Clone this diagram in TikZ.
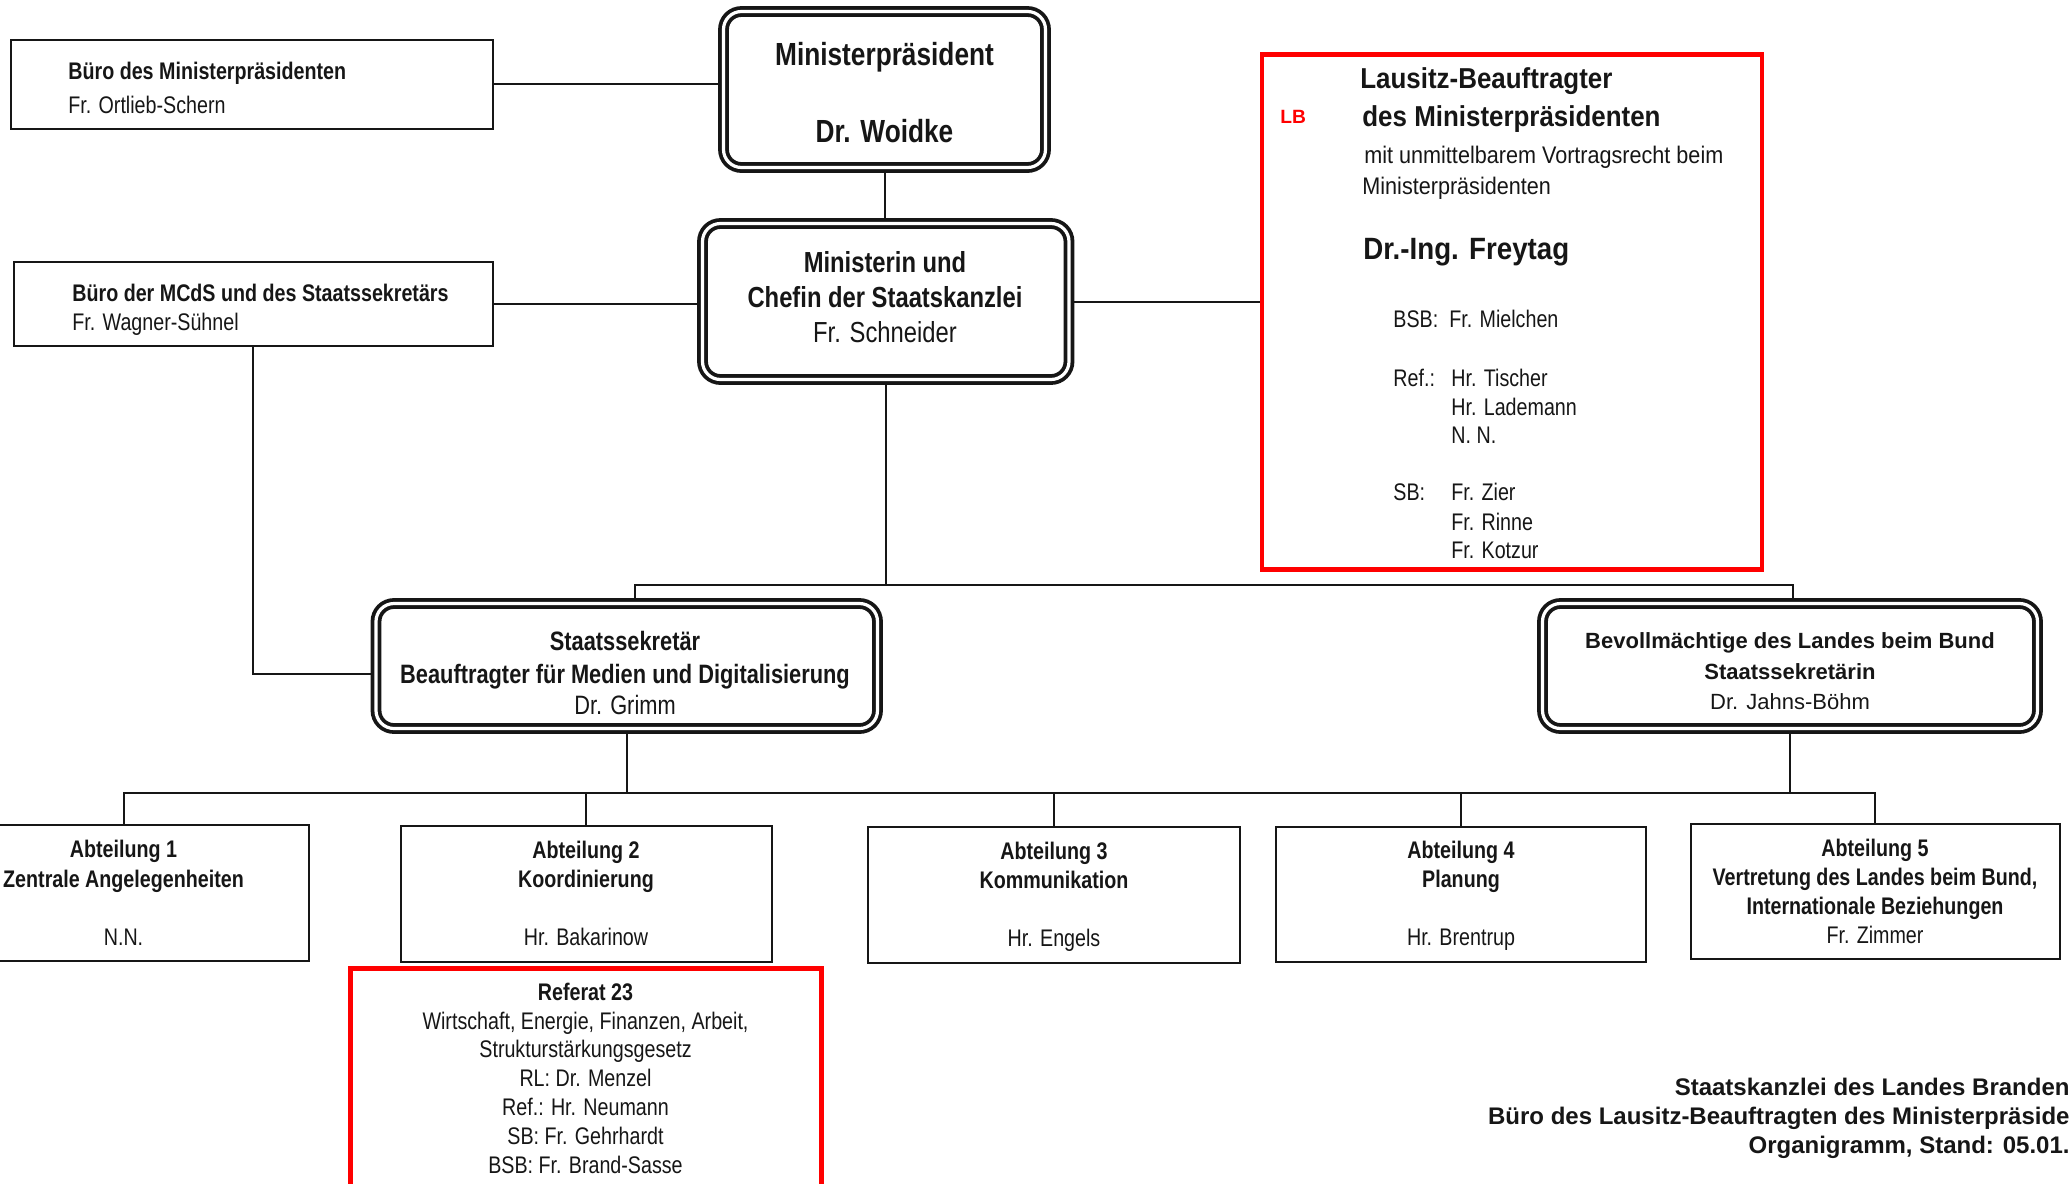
\documentclass[tikz,border=0pt]{standalone}
\usepackage{fontspec}
\setmainfont{Liberation Sans}
\newfontfamily\narrowf{Liberation Sans}[FakeStretch=0.82]
\newfontfamily\midf{Liberation Sans}[FakeStretch=0.9]
\usetikzlibrary{fit,backgrounds}
\definecolor{lbred}{RGB}{255,0,0}
\definecolor{ink}{RGB}{22,22,22}
\newcommand{\setsz}[1]{\fontsize{#1}{#1}\selectfont}
\begin{document}
\begin{tikzpicture}[x=0.5pt,y=-0.5pt,
  plainbox/.style={draw=ink, line width=1pt, inner sep=0pt},
  dblbox/.style={draw=ink, line width=1.9pt, double=white, double distance=1.6pt, rounded corners=9pt, inner sep=0pt},
  redbox/.style={draw=lbred, line width=2.3pt, inner sep=0pt},
  conn/.style={draw=ink, line width=1pt},
  tb/.style={inner sep=0pt, text=ink, font=\narrowf\bfseries\setsz{#1}},
  tr/.style={inner sep=0pt, text=ink, font=\narrowf\setsz{#1}},
  mb/.style={inner sep=0pt, text=ink, font=\midf\bfseries\setsz{#1}},
  mr/.style={inner sep=0pt, text=ink, font=\midf\setsz{#1}},
  wb/.style={inner sep=0pt, text=ink, font=\bfseries\setsz{#1}},
  wr/.style={inner sep=0pt, text=ink, font=\setsz{#1}},
]
\useasboundingbox (0,0) rectangle (2069,1184);

% ---------- boxes ----------
\node[plainbox, fit={(10.5,40) (492.5,128.5)}] (bmp) {};
\node[plainbox, fit={(14,262) (492.5,346)}] (bmcds) {};
\node[dblbox, fit={(723.5,11.5) (1045.5,167.5)}] (mp) {};
\node[dblbox, fit={(702.5,223.5) (1069,379.5)}] (mcds) {};
\node[redbox, line width=2.25pt, fit={(1262,54.5) (1762,569.5)}] (lb) {};
\node[dblbox, fit={(376,603.5) (877.5,728.5)}] (sts) {};
\node[dblbox, fit={(1542.5,603.5) (2037.5,728.5)}] (bev) {};
\node[plainbox, fit={(-62,825) (309,960.5)}] (a1) {};
\node[plainbox, fit={(401,826) (771.5,961.5)}] (a2) {};
\node[plainbox, fit={(868,827) (1239.5,962.5)}] (a3) {};
\node[plainbox, fit={(1276,827) (1645.5,961.5)}] (a4) {};
\node[plainbox, fit={(1690.5,823.5) (2059.5,959)}] (a5) {};
\node[redbox, line width=2.5pt, fit={(350,968) (821,1215)}] (r23) {};

% ---------- texts ----------
\node[tb=12pt, anchor=base west] (bmp1) at (68,79.6) {Büro des Ministerpräsidenten};
\node[tr=12pt, anchor=base west] (bmp2) at (68,113.6) {Fr. Ortlieb-Schern};
\node[tb=12pt, anchor=base west] (bmc1) at (72,301.6) {Büro der MCdS und des Staatssekretärs};
\node[tr=12pt, anchor=base west] (bmc2) at (72,330.6) {Fr. Wagner-Sühnel};

\node[tb=16pt, anchor=base] (mp1) at (884.5,65) {Ministerpräsident};
\node[tb=16pt, anchor=base] (mp2) at (884.5,142) {Dr. Woidke};

\node[tb=14.5pt, anchor=base] (mc1) at (885,272) {Ministerin und};
\node[tb=14.5pt, anchor=base] (mc2) at (885,307) {Chefin der Staatskanzlei};
\node[tr=14.5pt, anchor=base] (mc3) at (885,342) {Fr. Schneider};

\node[wb=9.6pt, anchor=base west, text=lbred] (lbtag) at (1280,123) {LB};
\node[mb=14.4pt, anchor=base west] (lb1) at (1360,88) {Lausitz-Beauftragter};
\node[mb=14.4pt, anchor=base west] (lb2) at (1362,126) {des Ministerpräsidenten};
\node[mr=12pt, anchor=base west] (lb3) at (1364,163) {mit unmittelbarem Vortragsrecht beim};
\node[mr=12pt, anchor=base west] (lb4) at (1362,194) {Ministerpräsidenten};
\node[mb=15.4pt, anchor=base west] (lb5) at (1363,259) {Dr.-Ing. Freytag};
\node[tr=12pt, anchor=base west] (lbk1) at (1393,327.6) {BSB:};
\node[tr=12pt, anchor=base west] (lbn1) at (1449,327.6) {Fr. Mielchen};
\node[tr=12pt, anchor=base west] (lbk2) at (1393,386.6) {Ref.:};
\node[tr=12pt, anchor=base west] (lbn2) at (1451,386.6) {Hr. Tischer};
\node[tr=12pt, anchor=base west] (lbn3) at (1451,415.6) {Hr. Lademann};
\node[tr=12pt, anchor=base west] (lbn4) at (1451,443.6) {N. N.};
\node[tr=12pt, anchor=base west] (lbk3) at (1393,500.6) {SB:};
\node[tr=12pt, anchor=base west] (lbn5) at (1451,500.6) {Fr. Zier};
\node[tr=12pt, anchor=base west] (lbn6) at (1451,530.6) {Fr. Rinne};
\node[tr=12pt, anchor=base west] (lbn7) at (1451,558.6) {Fr. Kotzur};

\node[tb=13.3pt, anchor=base] (st1) at (625,650) {Staatssekretär};
\node[tb=13.3pt, anchor=base] (st2) at (625,683) {Beauftragter für Medien und Digitalisierung};
\node[tr=13.3pt, anchor=base] (st3) at (625,714) {Dr. Grimm};

\node[wb=11pt, anchor=base] (bv1) at (1790,648) {Bevollmächtige des Landes beim Bund};
\node[wb=11pt, anchor=base] (bv2) at (1790,679) {Staatssekretärin};
\node[wr=11pt, anchor=base] (bv3) at (1790,709) {Dr. Jahns-Böhm};

\node[tb=12pt, anchor=base] (a1t1) at (123.5,857.6) {Abteilung 1};
\node[tb=12pt, anchor=base] (a1t2) at (123.5,887.6) {Zentrale Angelegenheiten};
\node[tr=12pt, anchor=base] (a1t3) at (123.5,945.6) {N.N.};

\node[tb=12pt, anchor=base] (a2t1) at (586,858.6) {Abteilung 2};
\node[tb=12pt, anchor=base] (a2t2) at (586,887.6) {Koordinierung};
\node[tr=12pt, anchor=base] (a2t3) at (586,945.6) {Hr. Bakarinow};

\node[tb=12pt, anchor=base] (a3t1) at (1054,859.6) {Abteilung 3};
\node[tb=12pt, anchor=base] (a3t2) at (1054,888.6) {Kommunikation};
\node[tr=12pt, anchor=base] (a3t3) at (1054,946.6) {Hr. Engels};

\node[tb=12pt, anchor=base] (a4t1) at (1461,858.6) {Abteilung 4};
\node[tb=12pt, anchor=base] (a4t2) at (1461,887.6) {Planung};
\node[tr=12pt, anchor=base] (a4t3) at (1461,945.6) {Hr. Brentrup};

\node[tb=12pt, anchor=base] (a5t1) at (1875,856.6) {Abteilung 5};
\node[tb=12pt, anchor=base] (a5t2) at (1875,885.6) {Vertretung des Landes beim Bund,};
\node[tb=12pt, anchor=base] (a5t3) at (1875,914.6) {Internationale Beziehungen};
\node[tr=12pt, anchor=base] (a5t4) at (1875,943.6) {Fr. Zimmer};

\node[tb=12pt, anchor=base] (r1) at (585.5,1000.6) {Referat 23};
\node[tr=12pt, anchor=base] (r2) at (585.5,1029.1) {Wirtschaft, Energie, Finanzen, Arbeit,};
\node[tr=12pt, anchor=base] (r3) at (585.5,1057.6) {Strukturstärkungsgesetz};
\node[tr=12pt, anchor=base] (r4) at (585.5,1086.6) {RL: Dr. Menzel};
\node[tr=12pt, anchor=base] (r5) at (585.5,1115.6) {Ref.: Hr. Neumann};
\node[tr=12pt, anchor=base] (r6) at (585.5,1144.6) {SB: Fr. Gehrhardt};
\node[tr=12pt, anchor=base] (r7) at (585.5,1173.6) {BSB: Fr. Brand-Sasse};

\node[wb=12pt, anchor=base east] (f1) at (2070,1095.5) {Staatskanzlei des Landes Branden};
\node[wb=12pt, anchor=base east] (f2) at (2070,1124.5) {Büro des Lausitz-Beauftragten des Ministerpräside};
\node[wb=12pt, anchor=base east] (f3) at (2070,1153.5) {Organigramm, Stand: 05.01.};

% ---------- connectors ----------
\coordinate (busA) at (885,585);
\coordinate (busB) at (626.75,793);
\begin{scope}[on background layer]
\draw[conn] (bmp.east) -- (bmp.east -| mp.west);
\draw[conn] (mp.south) -- (mp.south |- mcds.north);
\draw[conn] (bmcds.east) -- (bmcds.east -| mcds.west);
\draw[conn] (mcds.east) -- (mcds.east -| lb.west);
\draw[conn] (mcds.south) -- (mcds.south |- busA);
\draw[conn] ([xshift=4pt]sts.north) |- (busA) -| ([xshift=1.5pt]bev.north);
\draw[conn] (bmcds.south) |- ([yshift=-4pt]sts.west);
\draw[conn] (sts.south) -- (busB);
\draw[conn] (a1.north) |- (busB) -| (a5.north);
\draw[conn] (a2.north) -- (a2.north |- busB);
\draw[conn] (a3.north) -- (a3.north |- busB);
\draw[conn] (a4.north) -- (a4.north |- busB);
\draw[conn] (bev.south) -- (bev.south |- busB);
\end{scope}
\end{tikzpicture}
\end{document}
